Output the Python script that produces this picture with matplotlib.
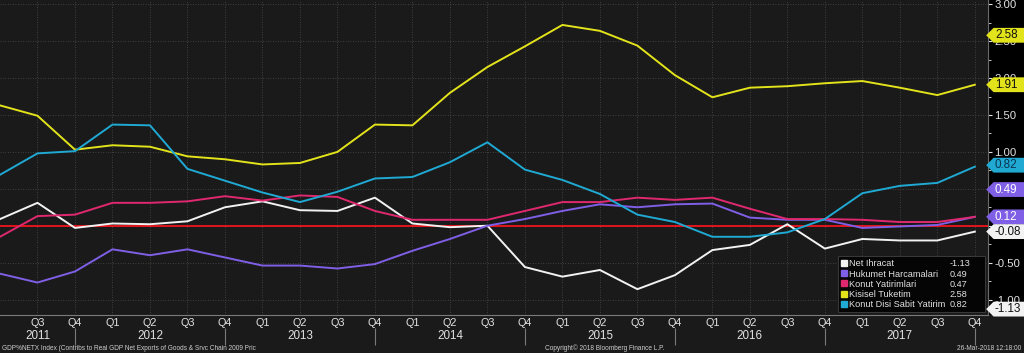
import matplotlib
matplotlib.use("Agg")
import matplotlib.pyplot as plt
import numpy as np
import pandas as pd
from matplotlib.lines import Line2D
from matplotlib.patches import Rectangle
from matplotlib.path import Path
from matplotlib.ticker import FuncFormatter, MultipleLocator

PERIODS = pd.period_range("2011Q2", "2017Q4", freq="Q")

SERIES_NAMES = [
    "Net Ihracat",
    "Hukumet Harcamalari",
    "Konut Yatirimlari",
    "Kisisel Tuketim",
    "Konut Disi Sabit Yatirim",
]
SERIES_COLORS = ["#f2f2f2", "#7f5fe6", "#e0286f", "#e3e31c", "#1fa9d3"]
LEGEND_VALUES = [-1.13, 0.49, 0.47, 2.58, 0.82]

net_ihracat = [0.09, 0.31, -0.03, 0.03, 0.02, 0.06, 0.25, 0.33, 0.21, 0.20,
               0.38, 0.03, -0.02, 0.00, -0.56, -0.69, -0.60, -0.86, -0.67,
               -0.33, -0.26, 0.02, -0.31, -0.18, -0.20, -0.20, -0.08]
hukumet = [-0.65, -0.77, -0.62, -0.32, -0.40, -0.32, -0.43, -0.54, -0.54,
           -0.58, -0.52, -0.34, -0.18, 0.00, 0.09, 0.20, 0.29, 0.25, 0.29,
           0.30, 0.11, 0.08, 0.08, -0.03, -0.01, 0.01, 0.12]
konut = [-0.15, 0.13, 0.15, 0.31, 0.31, 0.33, 0.40, 0.34, 0.41, 0.39, 0.20,
         0.08, 0.08, 0.08, 0.20, 0.32, 0.32, 0.38, 0.35, 0.38, 0.23, 0.09,
         0.09, 0.08, 0.05, 0.05, 0.12]
kisisel = [1.63, 1.49, 1.03, 1.09, 1.07, 0.94, 0.90, 0.83, 0.85, 1.00, 1.37,
           1.36, 1.80, 2.15, 2.43, 2.72, 2.64, 2.44, 2.04, 1.74, 1.87, 1.89,
           1.93, 1.96, 1.87, 1.77, 1.91]
konut_disi = [0.69, 0.98, 1.01, 1.37, 1.36, 0.77, 0.61, 0.45, 0.32, 0.46,
              0.64, 0.66, 0.86, 1.13, 0.76, 0.62, 0.43, 0.15, 0.05, -0.15,
              -0.15, -0.09, 0.09, 0.44, 0.54, 0.58, 0.80]

# right-edge value tags: (value, fill colour, text colour)
TAG_VALUES = [2.58, 1.91, 0.82, 0.49, 0.12, -0.08, -1.13]
TAG_FILLS = ["#e3e31c", "#e3e31c", "#1fa9d3", "#7f5fe6", "#7f5fe6", "#f2f2f2", "#f2f2f2"]
TAG_TEXT = ["#111111", "#111111", "#0a3550", "#ffffff", "#ffffff", "#111111", "#111111"]

BG = "#1a1a1a"
TXT = "#e2e2e2"
plt.rcParams["font.family"] = ["Liberation Sans", "DejaVu Sans"]


def tag_box(x0, y0, width, height, mutation_size):
    pad = mutation_size * 0.12
    x0, y0 = x0 - pad, y0 - pad
    x1, y1 = x0 + width + 2 * pad + 20, y0 + height + 2 * pad
    tip = (y1 - y0) / 2
    return Path([(x0, y0), (x1, y0), (x1, y1), (x0, y1),
                 (x0 - tip, (y0 + y1) / 2), (x0, y0)], closed=True)


def main() -> None:
    fig = plt.figure(figsize=(10.24, 3.53), dpi=100, facecolor=BG)
    ax = fig.add_axes([0.0, 0.1076, 0.9648, 0.8924])
    ax.set_facecolor(BG)
    fig.patches.append(Rectangle((0.9648, 0.1076), 0.0352, 0.8924,
                                 transform=fig.transFigure, facecolor="black",
                                 edgecolor="none", zorder=-5))

    x = np.arange(len(PERIODS))
    all_series = [net_ihracat, hukumet, konut, kisisel, konut_disi]
    ax.axhline(0, color="#e3141c", lw=1.4, zorder=2)
    for values, color in zip(all_series, SERIES_COLORS):
        ax.plot(x, values, color=color, lw=1.4, zorder=3)

    ax.set_xlim(0, 26.35)
    ax.set_ylim(-1.21, 3.058)

    # axes / ticks
    for side in ["left", "top"]:
        ax.spines[side].set_visible(False)
    ax.spines["bottom"].set_color("#7a7a7a")
    ax.spines["right"].set_color("#6a6a6a")
    ax.yaxis.tick_right()
    ax.set_yticks(np.arange(-1.0, 3.01, 0.5))
    ax.yaxis.set_minor_locator(MultipleLocator(0.25))
    ax.yaxis.set_major_formatter(FuncFormatter(lambda v, _: f"{v:.2f}"))
    ax.tick_params(axis="y", which="major", colors=TXT, labelsize=8.2,
                   length=3, pad=1.5)
    ax.tick_params(axis="y", which="minor", colors=TXT, length=2)

    quarter_labels = [f"Q{p.quarter}" for p in PERIODS]
    ax.set_xticks(x[1:])
    ax.set_xticklabels(quarter_labels[1:])
    ax.tick_params(axis="x", colors=TXT, labelsize=7.8, length=0, pad=2)

    ax.grid(True, which="major", color="#4c4c4c", lw=0.6, linestyle=(0, (1, 2)))
    ax.set_axisbelow(True)

    # year labels and year separators
    years = [p.year for p in PERIODS]
    xt = ax.get_xaxis_transform()
    for year in sorted(set(years)):
        idx = [i for i, y in enumerate(years) if y == year]
        ax.text(int(np.mean(idx)), -0.068, str(year), transform=xt, ha="center",
                va="center", color=TXT, fontsize=8.4, clip_on=False)
    q4 = [i for i, p in enumerate(PERIODS) if p.quarter == 4]
    ax.vlines(q4, -0.04, -0.095, transform=xt, color="#7a7a7a", lw=0.8,
              clip_on=False)

    # legend
    handles = [Line2D([], [], marker="s", linestyle="none", markersize=5,
                      color=c) for c in SERIES_COLORS]
    leg = ax.legend(handles, SERIES_NAMES, loc="lower left",
                    bbox_to_anchor=(0.848, 0.0095, 0.1488, 0.18), mode="expand",
                    borderaxespad=0, fontsize=6.6, labelcolor=TXT,
                    facecolor="#050505", edgecolor="#3a3a3a", framealpha=1,
                    fancybox=False, handlelength=0.6, handletextpad=0.3,
                    labelspacing=0.12, borderpad=0.35)
    leg.get_frame().set_linewidth(0.7)
    leg.set_zorder(6)

    # value tags on the right axis
    yt = ax.get_yaxis_transform()
    for v, fc, tc in zip(TAG_VALUES, TAG_FILLS, TAG_TEXT):
        ax.annotate(f"{v:.2f}", xy=(1.0, v), xycoords=yt, xytext=(7, 0),
                    textcoords="offset pixels", ha="left", va="center",
                    fontsize=8.4, color=tc, zorder=8, annotation_clip=False,
                    bbox=dict(boxstyle=tag_box, fc=fc, ec="none"))

    # legend values, aligned after the longest name
    fig.canvas.draw()
    renderer = fig.canvas.get_renderer()
    boxes = [t.get_window_extent(renderer) for t in leg.get_texts()]
    x_val = max(b.x1 for b in boxes) + 4
    W, H = fig.bbox.width, fig.bbox.height
    for b, val in zip(boxes, LEGEND_VALUES):
        fig.text(x_val / W, (b.y0 + b.y1) / 2 / H, f"{val:.2f}", ha="left",
                 va="center", fontsize=6.6, color=TXT, zorder=10)

    # footer
    fig.text(0.002, 0.014,
             "GDP%NETX Index (Contribs to Real GDP Net Exports of Goods & Srvc Chain 2009 Pric",
             fontsize=4.7, color="#cfcfcf", ha="left", va="center")
    fig.text(0.532, 0.014, "Copyright\u00a9 2018 Bloomberg Finance L.P.",
             fontsize=4.7, color="#cfcfcf", ha="left", va="center")
    fig.text(0.997, 0.014, "26-Mar-2018 12:18:00", fontsize=4.7,
             color="#cfcfcf", ha="right", va="center")

    fig.savefig("out.png", dpi=100, facecolor=BG)
    plt.close(fig)


if __name__ == "__main__":
    main()
